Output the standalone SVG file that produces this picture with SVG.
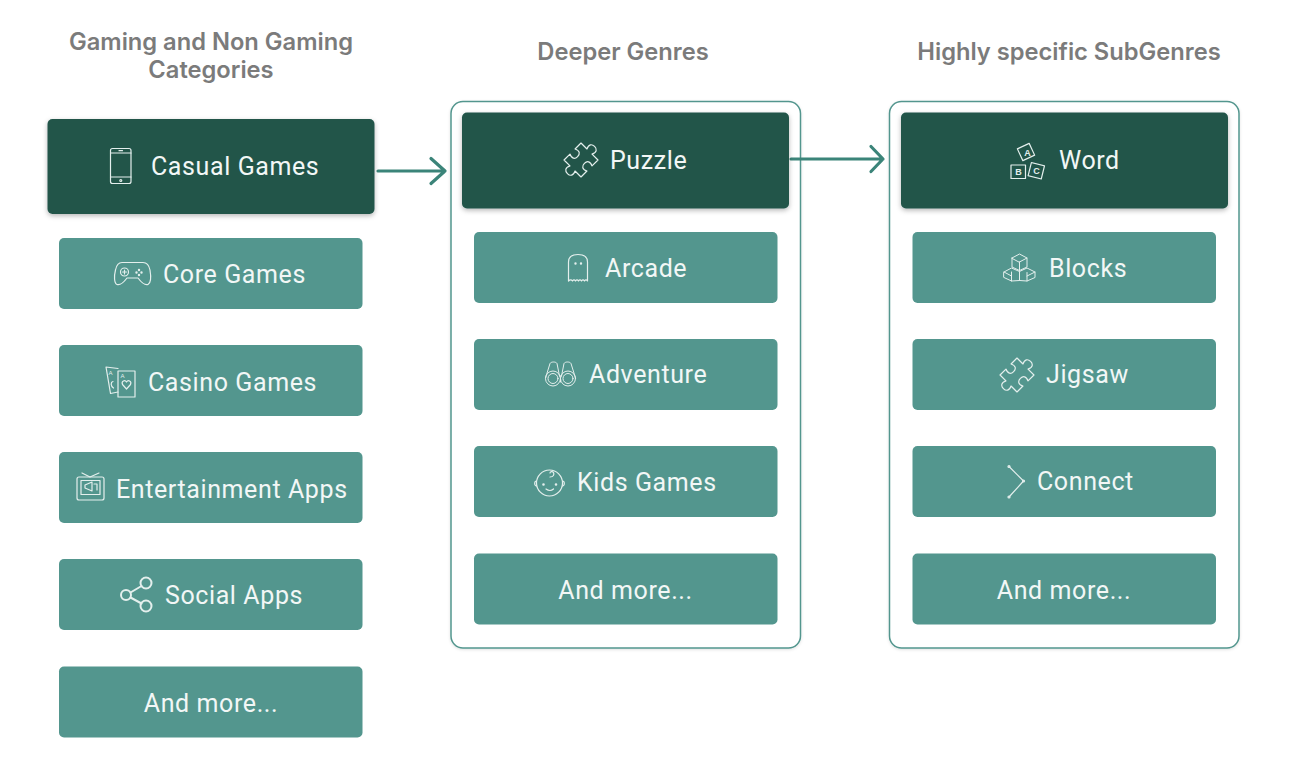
<svg xmlns="http://www.w3.org/2000/svg" width="1290" height="772" viewBox="0 0 1290 772">
<style>
.h{font-family:Inter,"Liberation Sans",sans-serif;font-size:23.700px;font-weight:600;fill:#7b7b7b;text-anchor:middle}
.t{font-family:Roboto,"Liberation Sans",sans-serif;font-size:25px;letter-spacing:.6px;fill:#f2f7f6}
.m{text-anchor:middle}
.d{fill:#22544a;filter:url(#s)}
.l{fill:#53968e}
.p{fill:#fff;stroke:#53968e;stroke-width:1.5;filter:url(#p)}
.i{fill:none;stroke:#e4efed;stroke-width:1.2;stroke-linecap:round;stroke-linejoin:round}
.a{fill:none;stroke:#3b8479;stroke-width:3.200;stroke-linecap:round;stroke-linejoin:round}
.b{font-family:"Liberation Sans",sans-serif;font-size:9px;font-weight:700;fill:#e4efed;text-anchor:middle}
</style>
<defs>
<filter id="s" x="-5%" y="-10%" width="110%" height="125%"><feDropShadow dx="0" dy="2" stdDeviation="2.500" flood-color="#000" flood-opacity=".28"/></filter>
<filter id="p" x="-3%" y="-3%" width="106%" height="106%"><feDropShadow dx="0" dy="1" stdDeviation="1.500" flood-color="#000" flood-opacity=".12"/></filter>
<path id="puzzle" class="i" style="stroke-width:1" d="M-10-10H-3C-5-14-3-16 0-16C3-16 5-14 3-10H10V-3C6-5 4-3 4 0C4 3 6 5 10 3V10H3C5 14 3 16 0 16C-3 16-5 14-3 10H-10V3C-6 5-4 3-4 0C-4-3-6-5-10-3Z"/>
</defs>
<rect width="1290" height="772" fill="#fff"/>
<g id="headings">
<text class="h" x="211" y="49.500">Gaming and Non Gaming</text>
<text class="h" x="211" y="78">Categories</text>
<text class="h" x="623" y="59.500">Deeper Genres</text>
<text class="h" x="1069" y="59.500">Highly specific SubGenres</text>
</g>
<g id="panel-genres"><rect class="p" x="451" y="101.500" width="349.500" height="546.500" rx="12"/></g>
<g id="panel-subgenres"><rect class="p" x="889.500" y="101.500" width="349.500" height="546.500" rx="12"/></g>
<g id="connectors">
<path class="a" d="M378 171H445M431 158.500L445 171L431 183.500"/>
<path class="a" d="M791 159H883M871 146.500L883 159L871 171.500"/>
</g>
<g id="casual"><rect class="d" x="47.500" y="119" width="327" height="95" rx="5"/>
<g class="i"><rect x="110.500" y="148.500" width="20.500" height="35" rx="2"/><path d="M110.500 153H131M110.500 177H131M119 150.700H122.500"/><circle cx="120.800" cy="180.500" r="1"/></g>
<text class="t" x="151" y="174.500">Casual Games</text></g>
<g id="core"><rect class="l" x="59" y="238" width="303.500" height="71" rx="5"/>
<g class="i"><path d="M122 262.500H143C147 262.500 149 265 150 270C151 276 151 283 148 284.500C145 285.500 141 282 138 278H127C124 282 120 285.500 117 284.500C114 283 114 276 115.500 270C116.500 265 118 262.500 122 262.500Z"/><circle cx="124.500" cy="272" r="4"/><path d="M124.500 270V274M122.500 272H126.500"/><circle cx="139" cy="270" r=".6"/><circle cx="139" cy="275" r=".6"/><circle cx="136.500" cy="272.500" r=".6"/><circle cx="141.500" cy="272.500" r=".6"/></g>
<text class="t" x="163" y="282.500">Core Games</text></g>
<g id="casino"><rect class="l" x="59" y="345" width="303.500" height="71" rx="5"/>
<g class="i"><path d="M118 368.500L106 367L110.500 393.500L118 392"/><rect x="118" y="371" width="17" height="26"/><path d="M126.500 389L122.500 384.500C121 381 125 379.500 126.500 382C128 379.500 132 381 130.500 384.500Z"/><path d="M113 381.500C110.500 382 110.500 386 113.500 388"/></g>
<text class="b" style="font-size:6px;font-weight:400" x="122.500" y="378">A</text><text class="b" style="font-size:6px;font-weight:400" x="110.500" y="375">A</text>
<text class="t" x="148" y="390.500">Casino Games</text></g>
<g id="entertainment"><rect class="l" x="59" y="452" width="303.500" height="71" rx="5"/>
<g class="i"><rect x="77" y="477" width="27" height="23" rx="2"/><rect x="81" y="480.500" width="19" height="14"/><path d="M82 473L90 477L99 473M85 485L92 482V491L85 488ZM94 484H97V490"/></g>
<text class="t" x="116" y="497.500">Entertainment Apps</text></g>
<g id="social"><rect class="l" x="59" y="559" width="303.500" height="71" rx="5"/>
<g class="i" style="stroke-width:2"><circle cx="126" cy="595" r="5"/><circle cx="146" cy="583" r="5.500"/><circle cx="146" cy="606" r="5.500"/><path d="M130.500 592.500L141.500 586M130.500 597.500L141.500 603.500"/></g>
<text class="t" x="165" y="603.500">Social Apps</text></g>
<g id="more-1"><rect class="l" x="59" y="666.500" width="303.500" height="71" rx="5"/><text class="t m" x="211" y="711.500">And more...</text></g>
<g id="puzzle-node"><rect class="d" x="462" y="112.500" width="327" height="96" rx="5"/><use href="#puzzle" transform="translate(581 160) rotate(45) scale(1.200)"/><text class="t" x="610" y="168.500">Puzzle</text></g>
<g id="arcade"><rect class="l" x="474" y="232" width="303.500" height="71" rx="5"/>
<g class="i"><path d="M568.500 281V262C568.500 257 572.500 254.500 578 254.500C583.500 254.500 587.500 257 587.500 262V281C586.500 279.500 585.500 279.500 584.500 281C583.500 279.500 582.500 279.500 581.500 281C580.500 279.500 579.500 279.500 578.500 281C577.500 279.500 576.500 279.500 575.500 281C574.500 279.500 573.500 279.500 572.500 281C571.500 279.500 570 279.500 568.500 281Z"/><circle cx="575.500" cy="263.500" r=".6"/><circle cx="581" cy="263.500" r=".6"/></g>
<text class="t" x="605" y="277">Arcade</text></g>
<g id="adventure"><rect class="l" x="474" y="339" width="303.500" height="71" rx="5"/>
<g class="i" style="stroke-width:1"><circle cx="553" cy="378.500" r="7.500"/><circle cx="553" cy="378.500" r="5"/><circle cx="568" cy="378.500" r="7.500"/><circle cx="568" cy="378.500" r="5"/><path d="M545.500 378L550 363.500C551 361.500 556 361.500 557 363.500L559.500 376M575.500 378L571 363.500C570 361.500 565 361.500 564 363.500L561.500 376M559.500 376H561.500M560.500 378V382"/></g>
<text class="t" x="589" y="383">Adventure</text></g>
<g id="kids"><rect class="l" x="474" y="446" width="303.500" height="71" rx="5"/>
<g class="i"><circle cx="549.500" cy="483" r="13"/><path d="M536.500 481a1.800 2.500 0 0 0 0 5M562.500 481a1.800 2.500 0 0 1 0 5M550 477c3.500 0 4.500-2.500 3.500-4.500-1-1.500-3.500-1-3.500.5M546 489c2.500 1.800 5.500 1.800 7.500 0"/><circle cx="543.500" cy="484.500" r=".7"/><circle cx="556" cy="484.500" r=".7"/></g>
<text class="t" x="577" y="491">Kids Games</text></g>
<g id="more-2"><rect class="l" x="474" y="553.500" width="303.500" height="71" rx="5"/><text class="t m" x="625.500" y="598.500">And more...</text></g>
<g id="word"><rect class="d" x="901" y="112.500" width="327" height="96" rx="5"/>
<g class="i"><rect x="1019.500" y="145.500" width="13" height="13" transform="rotate(-25 1026 152)"/><rect x="1011" y="165" width="14.500" height="13.500"/><rect x="1029.500" y="164" width="13.500" height="13.500" transform="rotate(14 1036 171)"/></g>
<text class="b" x="1027.500" y="155.500">A</text><text class="b" x="1018.500" y="175">B</text><text class="b" x="1036.500" y="174">C</text>
<text class="t" x="1059" y="168.500">Word</text></g>
<g id="blocks"><rect class="l" x="912.500" y="232" width="303.500" height="71" rx="5"/>
<g class="i" style="stroke-width:1"><path d="M1012 258L1019.500 254L1027 258L1019.500 262ZM1012 258V267L1019.500 270.500L1027 267V258M1019.500 262V270.500M1004 272L1011.500 268L1019.500 271.500V280.500L1011.500 281L1004 277.500ZM1011.500 272V281M1004 272L1011.500 276M1019.500 271.500L1027 268L1035 272V277.500L1027 281L1019.500 280.500M1027 272.500V281M1035 272L1027 276"/></g>
<text class="t" x="1049" y="277">Blocks</text></g>
<g id="jigsaw"><rect class="l" x="912.500" y="339" width="303.500" height="71" rx="5"/><use href="#puzzle" transform="translate(1017 375) rotate(45) scale(1.200)"/><text class="t" x="1046" y="383">Jigsaw</text></g>
<g id="connect"><rect class="l" x="912.500" y="446" width="303.500" height="71" rx="5"/>
<g class="i"><path d="M1009 466.500L1023.500 481L1009 497"/><circle cx="1009" cy="466.500" r="1"/><circle cx="1023.500" cy="481" r="1"/><circle cx="1009" cy="497" r="1"/></g>
<text class="t" x="1037" y="490">Connect</text></g>
<g id="more-3"><rect class="l" x="912.500" y="553.500" width="303.500" height="71" rx="5"/><text class="t m" x="1064" y="598.500">And more...</text></g>
</svg>
